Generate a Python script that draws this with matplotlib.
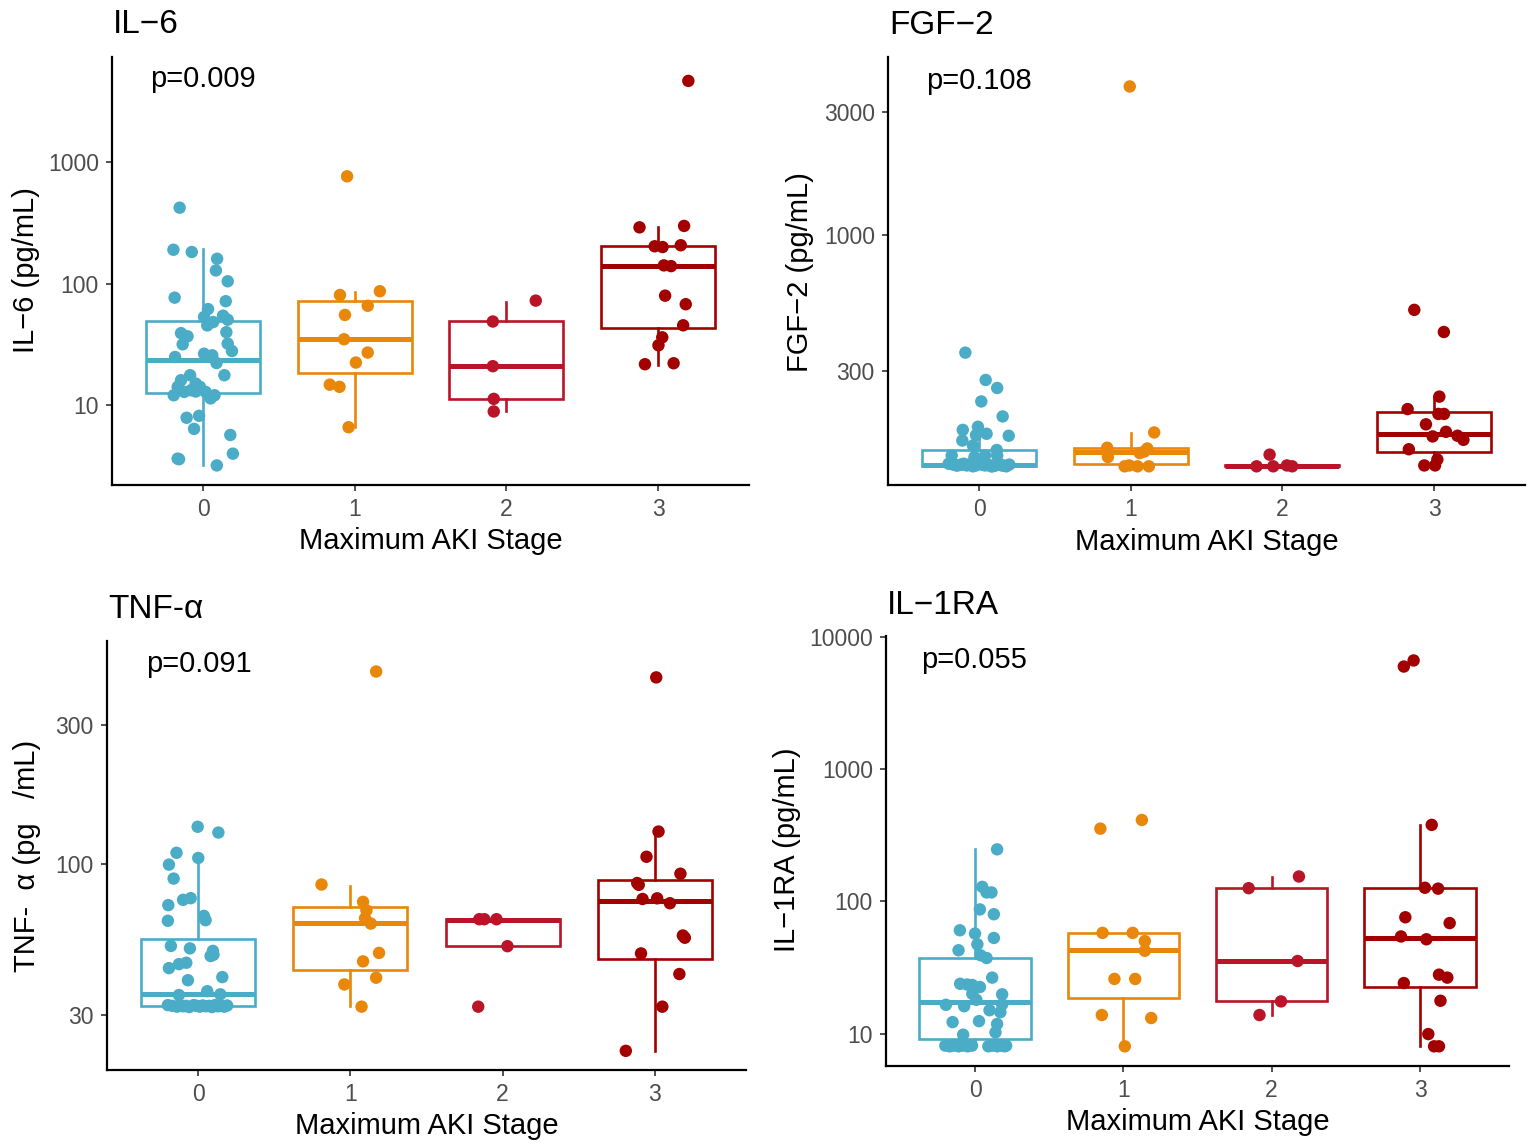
import matplotlib
matplotlib.use("Agg")
import matplotlib.pyplot as plt
import numpy as np

plt.rcParams['font.family'] = ['Liberation Sans', 'DejaVu Sans']

W, H = 1536, 1144
categories = ["0", "1", "2", "3"]
colors = ["#4AACC7", "#E8870A", "#BA1428", "#A30000"]

# ---------------- IL-6 ----------------
il6_vals = [
    [424, 191, 183, 161, 129, 105, 77, 72, 62, 53.4, 54.7, 50.7, 45.5, 48.5, 40, 39.3, 37, 31.8, 32.2, 28,
     25, 26.6, 25.8, 22.3, 17.7, 16.1, 17.7, 15.1, 14.2, 14.2, 12.1, 12.9, 13.3, 12.9, 11.4, 12.1, 13.0,
     7.9, 8.2, 6.4, 5.7, 4.0, 3.64, 3.2, 3.6],
    [768, 81, 87, 66, 55.5, 35, 27.2, 22.5, 14.8, 14.2, 6.6],
    [72.8, 49, 21, 11.3, 8.9],
    [4690, 292, 300, 204, 201, 208, 142, 140, 80, 68, 45.6, 36.3, 31.2, 21.8, 22.2],
]
il6_jit = [
    [-0.154, -0.195, -0.074, 0.093, 0.085, 0.163, -0.187, 0.15, 0.033, 0.007, 0.132, 0.163, 0.028, 0.067,
     0.154, -0.145, -0.102, -0.134, 0.163, 0.191, -0.184, 0.007, 0.061, 0.089, 0.141, -0.145, -0.085,
     -0.048, -0.02, -0.167, -0.193, -0.124, -0.08, 0.017, 0.05, 0.076, -0.048, -0.108, -0.026, -0.059,
     0.18, 0.197, -0.167, 0.091, -0.158],
    [-0.05, -0.097, 0.166, 0.086, -0.064, -0.07, 0.086, 0.008, -0.164, -0.1, -0.04],
    [0.194, -0.089, -0.089, -0.083, -0.083],
    [0.2, -0.122, 0.172, -0.022, 0.03, 0.15, 0.039, 0.086, 0.047, 0.183, 0.166, 0.028, 0.003, -0.086, 0.103],
]
il6_q1 = [12.7, 18.4, 11.3, 43]
il6_med = [23.8, 35, 21, 140]
il6_q3 = [49.4, 72.8, 49.4, 206]
il6_lo = [3.2, 6.6, 8.9, 21.5]
il6_hi = [193, 85.5, 71, 295]
il6_ticks = [10, 100, 1000]
il6_ticklabels = ["10", "100", "1000"]

# ---------------- FGF-2 ----------------
fgf_vals = [
    [352, 276, 257, 228, 199.5, 177, 182, 171, 169, 168, 161, 154, 148, 141, 139, 141, 141,
     131, 130, 129, 130, 131, 129, 130, 128, 129, 131, 130, 129, 130, 128, 129, 131, 130, 129, 128, 130,
     129, 131, 130, 129, 130, 128, 129],
    [3760, 173, 151, 150, 139, 144, 146, 128, 128, 128, 129],
    [142, 128, 128, 128, 129],
    [515, 423, 238, 213, 204, 204, 186, 174, 167, 168, 162, 149, 136, 129, 129],
]
fgf_jit = [
    [-0.09, 0.044, 0.12, 0.015, 0.156, -0.107, -0.007, 0.05, -0.02, 0.196, -0.11, -0.04, 0.117, -0.18,
     -0.03, 0.04, 0.12,
     -0.2, -0.17, -0.14, -0.12, -0.1, -0.08, -0.06, -0.04, -0.02, 0.0, 0.02, 0.04, 0.06, 0.08, 0.1, 0.12,
     0.14, 0.16, 0.18, 0.2, -0.15, -0.05, 0.05, 0.15, -0.11, 0.09, 0.11],
    [-0.006, 0.155, -0.155, 0.11, -0.15, 0.06, 0.09, -0.04, 0.045, 0.12, -0.01],
    [-0.084, -0.17, -0.06, 0.065, 0.03],
    [-0.13, 0.065, 0.035, -0.174, 0.066, 0.029, -0.053, 0.079, -0.009, 0.155, 0.194, -0.166, 0.022,
     -0.064, 0.007],
]
fgf_q1 = [128.5, 131, 128, 146]
fgf_med = [130, 145, 128.5, 171]
fgf_q3 = [148, 150, 129, 207]
fgf_lo = [128, 128, 128, 128]
fgf_hi = [180, 172, 129, 238]
fgf_ticks = [300, 1000, 3000]
fgf_ticklabels = ["300", "1000", "3000"]

# ---------------- TNF-alpha ----------------
tnf_vals = [
    [134, 128, 109, 104.6, 99.2, 88.8, 75, 76, 71.9, 66, 63.8, 63.5, 52, 51, 50, 48, 48.5, 45.5, 45, 43.6,
     40.6, 39.6, 36.3, 35.4, 35.2,
     32.5, 32.3, 32.1, 32.4, 32.2, 32.3, 32.0, 32.5, 32.3, 32.1, 32.4, 32.2, 32.3, 32.0, 32.5, 32.2, 32.3,
     32.1, 32.4],
    [460, 84.7, 73.8, 69, 64.8, 62.1, 49.2, 46, 40.4, 38.3, 32.1],
    [64.3, 64.3, 64.3, 51.9, 32.1],
    [439, 129, 105.6, 92.3, 85.7, 84.5, 75.5, 75.9, 73, 56.5, 55.5, 49, 41.6, 32.1, 22.6],
]
tnf_jit = [
    [-0.004, 0.132, -0.143, 0.0, -0.193, -0.162, -0.1, -0.05, -0.197, 0.037, 0.048, -0.2, -0.18, -0.055,
     0.096, 0.081, 0.1, -0.079, -0.127, -0.193, 0.158, -0.068, 0.059, 0.145, -0.127,
     -0.2, -0.17, -0.14, -0.12, -0.1, -0.08, -0.06, -0.03, -0.01, 0.01, 0.03, 0.05, 0.07, 0.09, 0.11,
     0.13, 0.15, 0.17, 0.19],
    [0.169, -0.19, 0.083, 0.105, 0.096, 0.134, 0.188, 0.083, 0.169, -0.04, 0.073],
    [-0.153, -0.12, -0.04, 0.032, -0.16],
    [0.01, 0.025, -0.054, 0.169, -0.115, -0.105, -0.08, 0.016, 0.1, 0.185, 0.198, -0.09, 0.162, 0.05, -0.19],
]
tnf_q1 = [32.3, 43, 51.9, 46.9]
tnf_med = [35.4, 62.5, 64, 74.2]
tnf_q3 = [54.8, 71.1, 64.3, 88.1]
tnf_lo = [32.0, 32.3, 51.9, 22.6]
tnf_hi = [104.6, 84, 64.3, 129]
tnf_ticks = [30, 100, 300]
tnf_ticklabels = ["30", "100", "300"]

# ---------------- IL-1RA ----------------
il1ra_vals = [
    [248, 129, 117, 117, 87, 80, 60.5, 57.1, 52.9, 47.4, 42.7, 39.1, 37.3, 26.5, 23.8, 23.5, 23.3, 22.5,
     19.8, 20, 18, 16.5, 16.1, 16.6, 14.5, 15, 12.2, 12.4, 11.8, 10.2, 9.8,
     8.1, 8.0, 8.1, 8.0, 8.1, 8.0, 8.1, 8.0, 8.1, 8.0, 8.1, 8.0, 8.1],
    [356, 414, 57.8, 57.8, 50.1, 42.3, 25.9, 25.9, 13.8, 13.1, 8.0],
    [154.5, 126, 35.4, 17.5, 13.8],
    [6680, 6010, 380, 127, 125, 75.9, 68.6, 54.3, 51.7, 27.9, 26.5, 24.1, 17.7, 9.9, 8.0, 8.0],
]
il1ra_jit = [
    [0.149, 0.049, 0.078, 0.111, 0.033, 0.127, -0.102, 0.0, 0.127, 0.016, -0.111, 0.038, 0.078, 0.116,
     -0.1, -0.053, -0.018, 0.033, 0.183, -0.018, 0.009, -0.196, -0.073, 0.183, 0.171, 0.098, -0.151,
     0.027, 0.149, 0.138, -0.08,
     -0.2, -0.17, -0.14, -0.11, -0.08, -0.05, -0.02, 0.09, 0.12, 0.15, 0.18, 0.2, 0.21],
    [-0.155, 0.125, -0.14, 0.063, 0.145, 0.145, -0.06, 0.08, -0.145, 0.188, 0.01],
    [0.184, -0.155, 0.175, 0.063, -0.082],
    [-0.043, -0.109, 0.079, 0.033, 0.122, -0.099, 0.2, -0.128, 0.043, 0.128, 0.184, -0.109, 0.138, 0.056,
     0.095, 0.128],
]
il1ra_q1 = [9.1, 18.6, 17.5, 22.4]
il1ra_med = [17.2, 42.8, 35.4, 52.6]
il1ra_q3 = [37.6, 57.8, 126, 126]
il1ra_lo = [8.0, 8.0, 13.8, 8.0]
il1ra_hi = [249, 57.8, 154, 377]
il1ra_ticks = [10, 100, 1000, 10000]
il1ra_ticklabels = ["10", "100", "1000", "10000"]

panels = [
    dict(title="IL\u22126", ylabel="IL\u22126 (pg/mL)", p="p=0.009",
         vals=il6_vals, jit=il6_jit, q1=il6_q1, med=il6_med, q3=il6_q3, lo=il6_lo, hi=il6_hi,
         ticks=il6_ticks, labels=il6_ticklabels, ylog=(0.344, 3.868),
         box=(112, 749, 57, 485), title_xy=(113, 33), ylab_xy=(26, 270), xlab_y=549, p_xy=(150, 87)),
    dict(title="FGF\u22122", ylabel="FGF\u22122 (pg/mL)", p="p=0.108",
         vals=fgf_vals, jit=fgf_jit, q1=fgf_q1, med=fgf_med, q3=fgf_q3, lo=fgf_lo, hi=fgf_hi,
         ticks=fgf_ticks, labels=fgf_ticklabels, ylog=(2.035, 3.689),
         box=(888, 1525, 57, 485), title_xy=(889, 34), ylab_xy=(800, 272), xlab_y=550, p_xy=(926, 89)),
    dict(title="TNF-\u03b1", ylabel="TNF-  \u03b1 (pg   /mL)", p="p=0.091",
         vals=tnf_vals, jit=tnf_jit, q1=tnf_q1, med=tnf_med, q3=tnf_q3, lo=tnf_lo, hi=tnf_hi,
         ticks=tnf_ticks, labels=tnf_ticklabels, ylog=(1.288, 2.768),
         box=(107, 746, 641, 1070), title_xy=(108, 618), ylab_xy=(27, 856), xlab_y=1134, p_xy=(146, 672)),
    dict(title="IL\u22121RA", ylabel="IL\u22121RA (pg/mL)", p="p=0.055",
         vals=il1ra_vals, jit=il1ra_jit, q1=il1ra_q1, med=il1ra_med, q3=il1ra_q3, lo=il1ra_lo, hi=il1ra_hi,
         ticks=il1ra_ticks, labels=il1ra_ticklabels, ylog=(0.754, 4.01),
         box=(886, 1509, 636, 1066), title_xy=(887, 614), ylab_xy=(787, 850), xlab_y=1130, p_xy=(921, 668)),
]

fig = plt.figure(figsize=(W / 100, H / 100), dpi=100)

for pn in panels:
    l, r, t, b = pn["box"]
    ax = fig.add_axes([l / W, 1 - b / H, (r - l) / W, (b - t) / H])
    ax.set_yscale("log")
    ax.set_xlim(-0.6, 3.6)
    ax.set_ylim(10 ** pn["ylog"][0], 10 ** pn["ylog"][1])

    for i in range(4):
        st = [dict(med=pn["med"][i], q1=pn["q1"][i], q3=pn["q3"][i],
                   whislo=pn["lo"][i], whishi=pn["hi"][i], fliers=[])]
        c = colors[i]
        ax.bxp(st, positions=[i], widths=0.75, showcaps=False, showfliers=False,
               patch_artist=True,
               boxprops=dict(facecolor="white", edgecolor=c, linewidth=1.9),
               whiskerprops=dict(color=c, linewidth=1.9),
               medianprops=dict(color=c, linewidth=3.6, solid_capstyle="butt"),
               manage_ticks=False, zorder=2)
        xs = i + np.array(pn["jit"][i])
        ax.scatter(xs, pn["vals"][i], s=80, color=c, edgecolors="none", zorder=3)

    ax.set_xticks(range(4))
    ax.set_xticklabels(categories)
    ax.set_yticks(pn["ticks"])
    ax.set_yticklabels(pn["labels"])
    ax.yaxis.set_minor_locator(matplotlib.ticker.NullLocator())
    for s in ["top", "right"]:
        ax.spines[s].set_visible(False)
    for s in ["left", "bottom"]:
        ax.spines[s].set_linewidth(1.6)
        ax.spines[s].set_color("black")
    ax.tick_params(axis="both", length=4.5, width=1.2, color="#333333",
                   labelsize=16.5, labelcolor="#4D4D4D", pad=5)
    ax.patch.set_alpha(0)

    fig.text(pn["title_xy"][0] / W, 1 - pn["title_xy"][1] / H, pn["title"],
             fontsize=24, ha="left", va="baseline", color="black")
    fig.text(pn["ylab_xy"][0] / W, 1 - pn["ylab_xy"][1] / H, pn["ylabel"],
             fontsize=21, rotation=90, ha="center", va="center", color="black")
    fig.text(((l + r) / 2) / W, 1 - pn["xlab_y"] / H, "Maximum AKI Stage",
             fontsize=21, ha="center", va="baseline", color="black")
    fig.text(pn["p_xy"][0] / W, 1 - pn["p_xy"][1] / H, pn["p"],
             fontsize=21, ha="left", va="baseline", color="black")

fig.savefig("out.png", dpi=100, facecolor="white")
